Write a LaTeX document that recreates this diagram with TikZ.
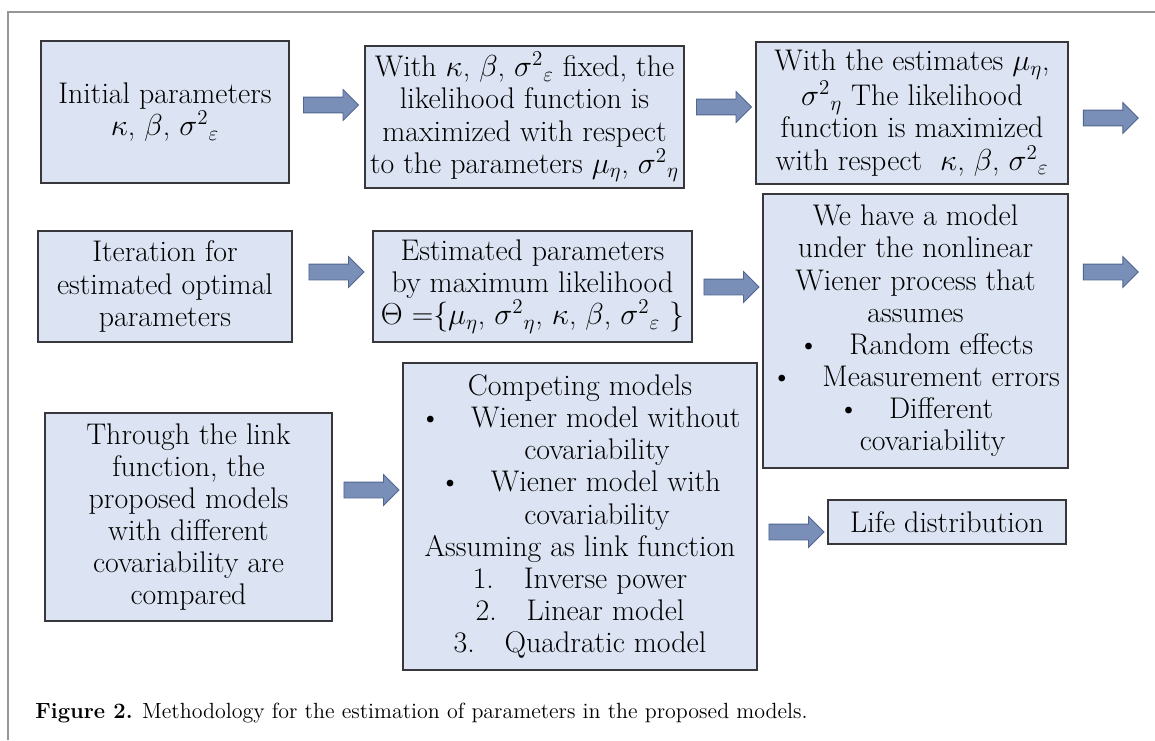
\documentclass[tikz,border=0pt]{standalone}
\usepackage{xcolor}
\usepackage{tikz}
\usetikzlibrary{shapes.arrows, calc, positioning}
\definecolor{boxfill}{RGB}{220,228,243}
\definecolor{boxline}{RGB}{55,55,60}
\definecolor{arrfill}{RGB}{122,143,184}
\definecolor{arrline}{RGB}{80,102,145}
\definecolor{framegray}{RGB}{150,150,150}
\tikzstyle{stepbox} = [draw=boxline, fill=boxfill, line width=0.9pt, inner sep=0pt, align=center, font=\fontsize{17}{18.3}\selectfont]
\tikzstyle{fatarrow} = [single arrow, draw=arrline, fill=arrfill, line width=0.5pt, inner xsep=0pt, inner ysep=0.15cm, minimum height=1.1cm, minimum width=0.6cm, single arrow head extend=0.15cm, single arrow head indent=0pt]
\newcommand{\sigsub}[1]{\sigma^{2}{}_{#1}}

\begin{document}
\begin{tikzpicture}[x=0.02cm, y=-0.02cm]
            \useasboundingbox (0,0) rectangle (1155,740);
            % frame
            \draw[framegray, line width=0.6pt] (8,740) -- (8,12) -- (1155,12);

            % first row
            \node[stepbox, minimum width=4.96cm, minimum height=2.84cm] (init) at (165,112)
                {Initial parameters\\$\kappa$, $\beta$, $\sigsub{\varepsilon}$};
            \node[stepbox, minimum width=6.38cm, minimum height=2.84cm] (fixkb) at (524.5,117)
                {With $\kappa$, $\beta$, $\sigsub{\varepsilon}$ fixed, the\\likelihood function is\\maximized with respect\\to the parameters $\mu_{\eta}$, $\sigsub{\eta}$};
            \node[stepbox, minimum width=6.24cm, minimum height=2.84cm] (fixmu) at (912,113)
                {With the estimates $\mu_{\eta}$,\\$\sigsub{\eta}$ The likelihood\\function is maximized\\with respect~ $\kappa$, $\beta$, $\sigsub{\varepsilon}$};
            \coordinate (out1) at (1145,118);

            % second row
            \node[stepbox, minimum width=5.08cm, minimum height=2.22cm] (iter) at (165,286.5)
                {Iteration for\\estimated optimal\\parameters};
            \node[stepbox, minimum width=6.38cm, minimum height=2.22cm] (mle) at (532.5,286.5)
                {Estimated parameters\\by maximum likelihood\\$\Theta$ =\{$\mu_{\eta}$, $\sigsub{\eta}$, $\kappa$, $\beta$, $\sigsub{\varepsilon}$ \}};
            \node[stepbox, minimum width=6.1cm, minimum height=5.48cm] (wiener) at (915.5,331)
                {We have a model\\under the nonlinear\\Wiener process that\\assumes\\\textbullet\quad Random effects\\\textbullet\quad Measurement errors\\\textbullet\quad Different\\\hspace*{0.68cm}covariability};
            \coordinate (out2) at (1145,272);

            % third row
            \node[stepbox, minimum width=5.74cm, minimum height=4.16cm] (link) at (188.5,517)
                {Through the link\\function, the\\proposed models\\with different\\covariability are\\compared};
            \node[stepbox, minimum width=7.08cm, minimum height=6.14cm] (compete) at (580,516.5)
                {Competing models\\\textbullet\quad Wiener model without\\\hspace*{0.68cm}covariability\\\textbullet\quad Wiener model with\\\hspace*{0.68cm}covariability\\Assuming as link function\\1.\quad Inverse power\\2.\quad Linear model\\3.\quad Quadratic model};
            \node[stepbox, minimum width=4.76cm, minimum height=0.88cm] (life) at (947,522)
                {Life distribution};

            % block arrows between the boxes
            \coordinate (m1) at ($(init.east)!0.5!(fixkb.west)$);
            \coordinate (m2) at ($(fixkb.east)!0.5!(fixmu.west)$);
            \coordinate (m3) at ($(fixmu.east)!0.5!(out1)$);
            \coordinate (m4) at ($(iter.east)!0.5!(mle.west)$);
            \coordinate (m5) at ($(mle.east)!0.5!(wiener.west)$);
            \coordinate (m6) at ($(wiener.east)!0.5!(out2)$);
            \coordinate (m7) at ($(link.east)!0.5!(compete.west)$);
            \coordinate (m8) at ($(compete.east)!0.5!(life.west)$);
            \node[fatarrow] (a1) at (m1 |- 0,105) {};
            \node[fatarrow] (a2) at (m2 |- 0,107) {};
            \node[fatarrow] (a3) at (m3 |- 0,118) {};
            \node[fatarrow] (a4) at (m4 |- 0,272) {};
            \node[fatarrow] (a5) at (m5 |- 0,287) {};
            \node[fatarrow] (a6) at (m6 |- 0,272) {};
            \node[fatarrow] (a7) at (m7 |- 0,490) {};
            \node[fatarrow] (a8) at (m8 |- 0,532) {};

            % caption
            \node[anchor=base west, inner sep=0pt, font=\fontsize{12.5}{14}\selectfont] (cap) at (35,718)
                {\textbf{Figure 2.} Methodology for the estimation of parameters in the proposed models.};
        \end{tikzpicture}
\end{document}
